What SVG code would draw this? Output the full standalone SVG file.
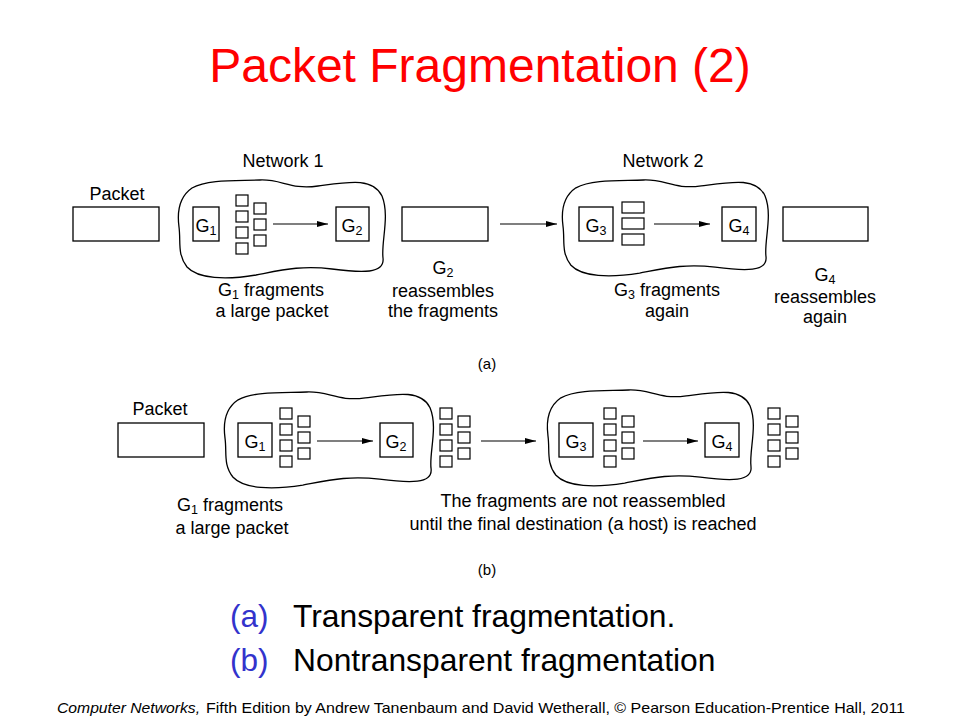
<svg xmlns="http://www.w3.org/2000/svg" xmlns:xlink="http://www.w3.org/1999/xlink" width="960" height="720" viewBox="0 0 960 720">
<style>
.t{font-family:"Liberation Sans",Arial,sans-serif;fill:#000;}
.lbl{font-size:18px;text-anchor:middle;}
.box{fill:#fff;stroke:#000;stroke-width:1.3;}
.sq{fill:#fff;stroke:#000;stroke-width:1.2;}
.cloud{fill:none;stroke:#000;stroke-width:1.3;}
.ln{stroke:#000;stroke-width:1.2;fill:none;marker-end:url(#ah);}
</style>
<defs>
<marker id="ah" markerWidth="11" markerHeight="8" refX="11" refY="4" orient="auto" markerUnits="userSpaceOnUse">
<path d="M0,1 L11,4 L0,7 Z" fill="#000"/>
</marker>
<path id="cloudShape" d="M 14,8 C 30,-1 60,1 82,0 C 104,-1 112,10 140,6 C 170,2 195,-3 204,16 C 212,36 203,62 205,78 C 207,94 184,93 154,89 C 124,85 104,90 78,95 C 48,100 20,99 9,87 C -1,74 3,62 1,47 C -1,32 1,17 14,8 Z"/>
<g id="stack">
<rect class="sq" x="0" y="0" width="12" height="11"/>
<rect class="sq" x="0" y="16" width="12" height="11"/>
<rect class="sq" x="0" y="32" width="12" height="11"/>
<rect class="sq" x="0" y="48" width="12" height="11"/>
<rect class="sq" x="18" y="8" width="12" height="11"/>
<rect class="sq" x="18" y="24" width="12" height="11"/>
<rect class="sq" x="18" y="40" width="12" height="11"/>
</g>
</defs>
<rect width="960" height="720" fill="#fff"/>

<text class="t" x="480" y="82" font-size="48" text-anchor="middle" style="fill:#FF0000">Packet Fragmentation (2)</text>

<!-- Part (a) -->
<g id="a-packet">
<text class="t lbl" x="117" y="200">Packet</text>
<rect class="box" x="73" y="207" width="86" height="34"/>
</g>
<g id="a-network1">
<text class="t lbl" x="283" y="167">Network 1</text>
<use xlink:href="#cloudShape" class="cloud" transform="translate(178,180)"/>
</g>
<g id="a-g1">
<rect class="box" x="193" y="207" width="26" height="34"/>
<text class="t lbl" x="206" y="232">G<tspan font-size="12.5" dy="3">1</tspan></text>
</g>
<g id="a-frag1">
<use xlink:href="#stack" transform="translate(236,195)"/>
</g>
<g id="a-g2">
<rect class="box" x="336" y="207" width="33" height="34"/>
<text class="t lbl" x="352" y="232">G<tspan font-size="12.5" dy="3">2</tspan></text>
</g>
<g id="a-reassembled">
<rect class="box" x="402" y="207" width="86" height="34"/>
</g>
<g id="a-network2">
<text class="t lbl" x="663" y="167">Network 2</text>
<use xlink:href="#cloudShape" class="cloud" transform="translate(562,180) scale(0.995,0.98)"/>
</g>
<g id="a-g3">
<rect class="box" x="579" y="207" width="34" height="34"/>
<text class="t lbl" x="596" y="232">G<tspan font-size="12.5" dy="3">3</tspan></text>
</g>
<g id="a-frag3">
<rect class="sq" x="622" y="202" width="22" height="11"/>
<rect class="sq" x="622" y="218" width="22" height="11"/>
<rect class="sq" x="622" y="234" width="22" height="11"/>
</g>
<g id="a-g4">
<rect class="box" x="722" y="207" width="34" height="34"/>
<text class="t lbl" x="739" y="232">G<tspan font-size="12.5" dy="3">4</tspan></text>
</g>
<g id="a-final">
<rect class="box" x="783" y="207" width="85" height="34"/>
</g>

<g id="a-captions">
<text class="t lbl" x="271" y="296">G<tspan font-size="12.5" dy="3">1</tspan><tspan dy="-3"> fragments</tspan></text>
<text class="t lbl" x="272" y="317">a large packet</text>
<text class="t lbl" x="443" y="274">G<tspan font-size="12.5" dy="3">2</tspan></text>
<text class="t lbl" x="443" y="297">reassembles</text>
<text class="t lbl" x="443" y="317">the fragments</text>
<text class="t lbl" x="667" y="296">G<tspan font-size="12.5" dy="3">3</tspan><tspan dy="-3"> fragments</tspan></text>
<text class="t lbl" x="667" y="317">again</text>
<text class="t lbl" x="825" y="281">G<tspan font-size="12.5" dy="3">4</tspan></text>
<text class="t lbl" x="825" y="303">reassembles</text>
<text class="t lbl" x="825" y="323">again</text>
<text class="t" x="487" y="369" font-size="15" text-anchor="middle">(a)</text>
</g>

<!-- Part (b) -->
<g id="b-packet">
<text class="t lbl" x="160" y="415">Packet</text>
<rect class="box" x="118" y="423" width="86" height="34"/>
</g>
<g id="b-network1">
<use xlink:href="#cloudShape" class="cloud" transform="translate(224,392) scale(1.01,0.98)"/>
</g>
<g id="b-g1">
<rect class="box" x="238" y="423" width="34" height="34"/>
<text class="t lbl" x="255" y="448">G<tspan font-size="12.5" dy="3">1</tspan></text>
</g>
<g id="b-frag1"><use xlink:href="#stack" transform="translate(280,408)"/></g>
<g id="b-g2">
<rect class="box" x="380" y="423" width="33" height="34"/>
<text class="t lbl" x="396" y="448">G<tspan font-size="12.5" dy="3">2</tspan></text>
</g>
<g id="b-frag2"><use xlink:href="#stack" transform="translate(440,408)"/></g>
<g id="b-network2">
<use xlink:href="#cloudShape" class="cloud" transform="translate(547,390) scale(0.995,0.98)"/>
</g>
<g id="b-g3">
<rect class="box" x="559" y="423" width="34" height="34"/>
<text class="t lbl" x="576" y="448">G<tspan font-size="12.5" dy="3">3</tspan></text>
</g>
<g id="b-frag3"><use xlink:href="#stack" transform="translate(604,408)"/></g>
<g id="b-g4">
<rect class="box" x="705" y="423" width="34" height="34"/>
<text class="t lbl" x="722" y="448">G<tspan font-size="12.5" dy="3">4</tspan></text>
</g>
<g id="b-frag4"><use xlink:href="#stack" transform="translate(768,408)"/></g>

<g id="b-captions">
<text class="t lbl" x="230" y="511">G<tspan font-size="12.5" dy="3">1</tspan><tspan dy="-3"> fragments</tspan></text>
<text class="t lbl" x="232" y="534">a large packet</text>
<text class="t lbl" x="583" y="507">The fragments are not reassembled</text>
<text class="t lbl" x="583" y="530">until the final destination (a host) is reached</text>
<text class="t" x="487" y="575" font-size="15" text-anchor="middle">(b)</text>
</g>

<g id="connectors">
<line class="ln" x1="273" y1="224" x2="328" y2="224"/>
<line class="ln" x1="500" y1="224" x2="557" y2="224"/>
<line class="ln" x1="654" y1="224" x2="710" y2="224"/>
<line class="ln" x1="317" y1="441" x2="373" y2="441"/>
<line class="ln" x1="481" y1="441" x2="536" y2="441"/>
<line class="ln" x1="643" y1="441" x2="698" y2="441"/>
</g>

<g id="legend">
<text class="t" x="230" y="627" font-size="31.5" style="fill:#3333CC">(a)</text>
<text class="t" x="293" y="627" font-size="31.8">Transparent fragmentation.</text>
<text class="t" x="230" y="671" font-size="31.5" style="fill:#3333CC">(b)</text>
<text class="t" x="293" y="671" font-size="31.8">Nontransparent fragmentation</text>
</g>

<g id="footer">
<text class="t" x="57" y="713" font-size="14.5" font-style="italic" textLength="143" lengthAdjust="spacingAndGlyphs">Computer Networks,</text>
<text class="t" x="206" y="713" font-size="14.5" textLength="699" lengthAdjust="spacingAndGlyphs">Fifth Edition by Andrew Tanenbaum and David Wetherall, © Pearson Education-Prentice Hall, 2011</text>
</g>
</svg>
